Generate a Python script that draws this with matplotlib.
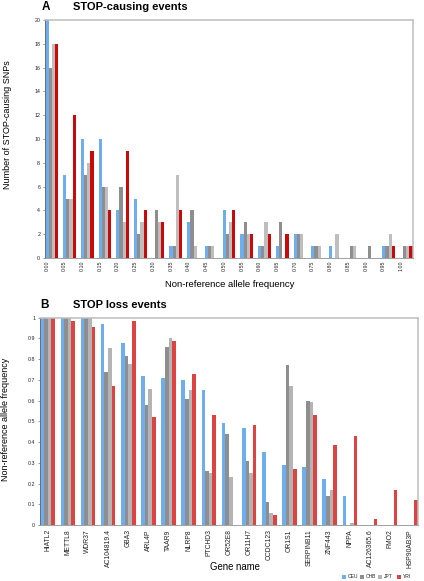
#!/usr/bin/env python3
# -*- coding: utf-8 -*-

"""Two-panel bar chart: STOP-causing SNP counts and STOP loss frequencies."""

import matplotlib
matplotlib.use('agg')
import matplotlib.pyplot as plt
import numpy as np
from matplotlib.patches import Rectangle

W, H = 424, 581

POPS = ['CEU', 'CHB', 'JPT', 'YRI']
COLORS_A = ['#6EAEEE', '#8E8E8E', '#BEBEBE', '#C80A0A']
COLORS_B = ['#6EAEEE', '#8E8E8E', '#B4B4B4', '#DC4444']

# panel A: number of STOP-causing SNPs per allele frequency bin
freq_bins = ['0.00', '0.05', '0.10', '0.15', '0.20', '0.25', '0.30',
             '0.35', '0.40', '0.45', '0.50', '0.55', '0.60', '0.65',
             '0.70', '0.75', '0.80', '0.85', '0.90', '0.95', '1.00']
ceu_a = [20, 7, 10, 10, 4, 5, 0, 1, 3, 1, 4, 2, 1, 1, 2, 1, 1, 0, 0, 1, 0]
chb_a = [16, 5, 7, 6, 6, 2, 4, 1, 4, 1, 2, 3, 1, 3, 2, 1, 0, 1, 1, 1, 1]
jpt_a = [18, 5, 8, 6, 3, 3, 3, 7, 1, 1, 3, 2, 3, 0, 2, 1, 2, 1, 0, 2, 1]
yri_a = [18, 12, 9, 4, 9, 4, 3, 4, 0, 0, 4, 2, 2, 2, 0, 0, 0, 0, 0, 1, 1]

# panel B: non-reference allele frequency of STOP loss events
genes = ['HIATL2', 'METTL8', 'WDR37', 'AC104819.4', 'GBA3', 'ARL4P',
         'TAAR9', 'NLRP8', 'PTCHD3', 'OR52E8', 'OR11H7', 'CCDC123',
         'OR1S1', 'SERPINB11', 'ZNF443', 'NPPA', 'AC126365.6', 'FMO2',
         'HSP90AB3P']
ceu_b = [1, 1, 1, 0.97, 0.88, 0.72, 0.71, 0.70, 0.65, 0.49, 0.47, 0.35,
         0.29, 0.28, 0.22, 0.14, 0, 0, 0]
chb_b = [1, 1, 1, 0.74, 0.815, 0.58, 0.86, 0.61, 0.26, 0.44, 0.31, 0.11,
         0.77, 0.60, 0.14, 0, 0, 0, 0]
jpt_b = [1, 1, 1, 0.855, 0.775, 0.655, 0.90, 0.65, 0.25, 0.23, 0.25, 0.06,
         0.67, 0.595, 0.17, 0.01, 0, 0, 0]
yri_b = [1, 0.985, 0.955, 0.67, 0.985, 0.52, 0.89, 0.73, 0.53, 0, 0.48,
         0.05, 0.27, 0.53, 0.385, 0.43, 0.03, 0.17, 0.12]

plt.rcParams['font.family'] = ['Liberation Sans', 'DejaVu Sans']


def px_axes(fig, left, top, right, bottom):
    """Add axes using pixel coordinates measured from the top left."""
    return fig.add_axes([left / W, 1 - bottom / H,
                         (right - left) / W, (bottom - top) / H])


def grouped_bars(ax, series, colors, group_width=0.72):
    """Draw the four population series side by side."""
    n = len(series)
    bw = group_width / n
    x = np.arange(len(series[0]))
    for i, (vals, col) in enumerate(zip(series, colors)):
        ax.bar(x - group_width / 2 + bw * (i + 0.5), vals, width=bw,
               color=col, edgecolor='none', linewidth=0)
    ax.set_xlim(-0.38, len(x) - 1 + 0.38)
    return x


def style_frame(ax):
    for side in ('top', 'right'):
        ax.spines[side].set_color('#BDBDBD')
        ax.spines[side].set_linewidth(1.1)
    ax.spines['left'].set_color('#6E6E6E')
    ax.spines['left'].set_linewidth(0.7)
    ax.spines['bottom'].set_color('#A0A0A0')
    ax.spines['bottom'].set_linewidth(0.7)
    ax.tick_params(axis='y', length=1.5, width=0.5, color='#6E6E6E',
                   pad=2, labelsize=3.8, labelcolor='#222222')
    ax.tick_params(axis='x', length=0, pad=2, labelcolor='#222222')


def main():
    fig = plt.figure(figsize=(W / 100, H / 100), dpi=100)

    # panel A
    ax_a = px_axes(fig, 45, 20, 413, 258)
    x = grouped_bars(ax_a, [ceu_a, chb_a, jpt_a, yri_a], COLORS_A)
    ax_a.set_ylim(0, 20)
    ax_a.set_yticks(range(0, 21, 2))
    ax_a.set_xticks(x - 0.28)
    ax_a.set_xticklabels(freq_bins, rotation=90, fontsize=3.8)
    style_frame(ax_a)

    fig.text(42 / W, 1 - 6.5 / H, 'A', fontsize=8.5, fontweight='bold',
             va='center', ha='left')
    fig.text(73 / W, 1 - 6.5 / H, 'STOP-causing events', fontsize=8,
             fontweight='bold', va='center', ha='left')
    fig.text(8 / W, 1 - 125 / H, 'Number of STOP-causing SNPs',
             fontsize=6.5, rotation=90, va='center', ha='center')
    fig.text(230 / W, 1 - 284.5 / H, 'Non-reference allele frequency',
             fontsize=6.8, va='center', ha='center')

    # panel B
    ax_b = px_axes(fig, 40, 317.7, 418, 525)
    x = grouped_bars(ax_b, [ceu_b, chb_b, jpt_b, yri_b], COLORS_B)
    ax_b.set_ylim(0, 1)
    ticks = np.round(np.arange(0, 1.01, 0.1), 1)
    ax_b.set_yticks(ticks)
    ax_b.set_yticklabels([f'{t:g}' for t in ticks])
    ax_b.set_xticks(x)
    ax_b.set_xticklabels(genes, rotation=90, fontsize=4.9)
    style_frame(ax_b)
    ax_b.tick_params(axis='x', pad=3)

    fig.text(40 / W, 1 - 305 / H, 'B', fontsize=8.5, fontweight='bold',
             va='center', ha='left')
    fig.text(73 / W, 1 - 305 / H, 'STOP loss events', fontsize=8,
             fontweight='bold', va='center', ha='left')
    fig.text(6 / W, 1 - 419 / H, 'Non-reference allele frequency',
             fontsize=6.5, rotation=90, va='center', ha='center')
    fig.text(235 / W, 1 - 567.5 / H, 'Gene name', fontsize=6.9,
             va='center', ha='center')

    # legend strip along the bottom right
    for i, (name, col) in enumerate(zip(POPS, COLORS_B)):
        x0 = 341.7 + i * 18.3
        fig.patches.append(Rectangle((x0 / W, 1 - 579 / H), 4 / W, 4 / H,
                                     transform=fig.transFigure,
                                     facecolor=col, edgecolor='none'))
        fig.text((x0 + 6) / W, 1 - 577 / H, name, fontsize=3.6,
                 va='center', ha='left', color='#222222')

    fig.savefig('out.png', dpi=100)


if __name__ == '__main__':
    main()
